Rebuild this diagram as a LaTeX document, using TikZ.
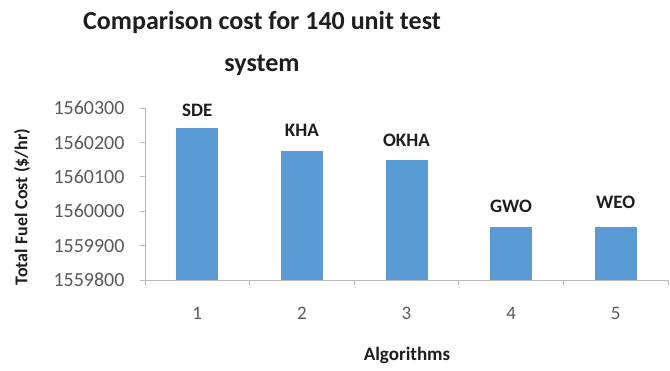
\documentclass[tikz,border=0pt]{standalone}
\usepackage{fontspec}
\setmainfont{Carlito}
\definecolor{barblue}{RGB}{91,155,213}
\definecolor{axisgray}{RGB}{185,185,185}
\definecolor{ticktext}{RGB}{89,89,89}
\definecolor{titletext}{RGB}{30,30,30}
\begin{document}
\begin{tikzpicture}[x=1pt,y=1pt]
          \useasboundingbox (0,0) rectangle (670,370);
          \node[align=center,text=titletext,font=\fontsize{26}{42}\selectfont\bfseries] (title) at (262,327) {Comparison cost for 140 unit test\\system};

          \draw[axisgray,line width=0.8pt] (145,262) -- (145,90) -- (668,90);

          \foreach \k/\lab in {0/1559800,1/1559900,2/1560000,3/1560100,4/1560200,5/1560300} {
            \draw[axisgray,line width=0.8pt] (140,90+34.4*\k) -- (145,90+34.4*\k);
            \node[anchor=east,text=ticktext,font=\fontsize{20}{22}\selectfont] (ytick\k) at (128,90+34.4*\k) {\lab};
          }

          \foreach \i in {0,...,5} {
            \draw[axisgray,line width=0.8pt] (145+104.6*\i,90) -- (145+104.6*\i,85);
          }

          \foreach \i/\h/\name/\ly in {1/442/SDE/260,2/375/KHA/240,3/349/OKHA/230,4/154/GWO/164,5/154/WEO/168} {
            \fill[barblue] (145+104.6*\i-52.3-21,90) rectangle (145+104.6*\i-52.3+21,90+0.344*\h);
            \node[text=titletext,font=\fontsize{19}{20}\selectfont\bfseries] (lbl\i) at (145+104.6*\i-52.3,\ly) {\name};
            \node[text=ticktext,font=\fontsize{19}{20}\selectfont] (xtick\i) at (145+104.6*\i-52.3,57) {\i};
          }

          \node[rotate=90,text=titletext,font=\fontsize{18}{20}\selectfont\bfseries] (ylab) at (22,163) {Total Fuel Cost (\$/hr)};
          \node[text=titletext,font=\fontsize{19}{20}\selectfont\bfseries] (xlab) at (407,15) {Algorithms};
        \end{tikzpicture}
\end{document}
